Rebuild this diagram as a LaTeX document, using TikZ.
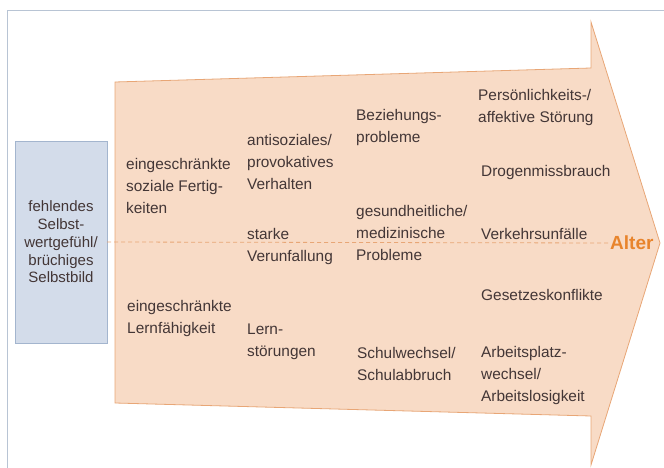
\documentclass[tikz,border=0pt]{standalone}
\usepackage{fontspec}
\setmainfont{Liberation Sans}
\definecolor{peach}{HTML}{F8DBC6}
\definecolor{peachline}{HTML}{E8A676}
\definecolor{boxblue}{HTML}{D3DCEA}
\definecolor{boxline}{HTML}{A3B5CE}
\definecolor{frameline}{HTML}{B8C4D4}
\definecolor{txt}{HTML}{433636}
\definecolor{alterorange}{HTML}{E8842C}
\begin{document}
\begin{tikzpicture}[x=1bp, y=-1bp,
  item/.style={anchor=west, align=left, inner sep=0pt, text=txt,
    font=\fontsize{15.4bp}{22bp}\selectfont},
  selfbox/.style={draw=boxline, fill=boxblue, minimum width=92bp, minimum height=202bp,
    inner sep=0pt, align=center, text=txt, font=\fontsize{15bp}{17.7bp}\selectfont},
  ageline/.style={dashed, dash pattern=on 4bp off 3bp, draw=peachline, line width=.8bp}]
\useasboundingbox (0,0) rectangle (664,468);
% frame
\draw[frameline, line width=1bp](664,11)--(7,11)--(7,468);
% the big arrow
\draw[peachline, fill=peach, line width=.8bp](115,82)--(591,68)--(591,22)--(660,243)
  --(591,465)--(591,416)--(115,403)--cycle;
% start box
\node[selfbox] (self) at (61,242) {fehlendes\\Selbst-\\wertgefühl/\\brüchiges\\Selbstbild};
\node[anchor=west, inner sep=0pt, text=alterorange, font=\fontsize{19bp}{20bp}\selectfont\bfseries] (alter) at (610,243) {Alter};
\draw[ageline](self.east)--(alter.west);
% first column
\node[item] (sozial) at (126,186) {eingeschränkte\\soziale Fertig-\\keiten};
\node[item] (lernfaehig) at (127,319) {eingeschränkte\\Lernfähigkeit};
% second column
\node[item] (antisozial) at (247,162) {antisoziales/\\provokatives\\Verhalten};
\node[item] (unfall) at (247,247) {starke\\Verunfallung};
\node[item] (lernstoer) at (247,342) {Lern-\\störungen};
% third column
\node[item] (beziehung) at (356,128) {Beziehungs-\\probleme};
\node[item] (gesund) at (356,233) {gesundheitliche/\\medizinische\\Probleme};
\node[item] (schule) at (357,364) {Schulwechsel/\\Schulabbruch};
% fourth column
\node[item] (persoenlich) at (478,108) {Persönlichkeits-/\\affektive Störung};
\node[item] (drogen) at (481,173) {Drogenmissbrauch};
\node[item] (verkehr) at (481,234) {Verkehrsunfälle};
\node[item] (gesetz) at (481,295) {Gesetzeskonflikte};
\node[item] (arbeit) at (481,376) {Arbeitsplatz-\\wechsel/\\Arbeitslosigkeit};
\end{tikzpicture}
\end{document}
